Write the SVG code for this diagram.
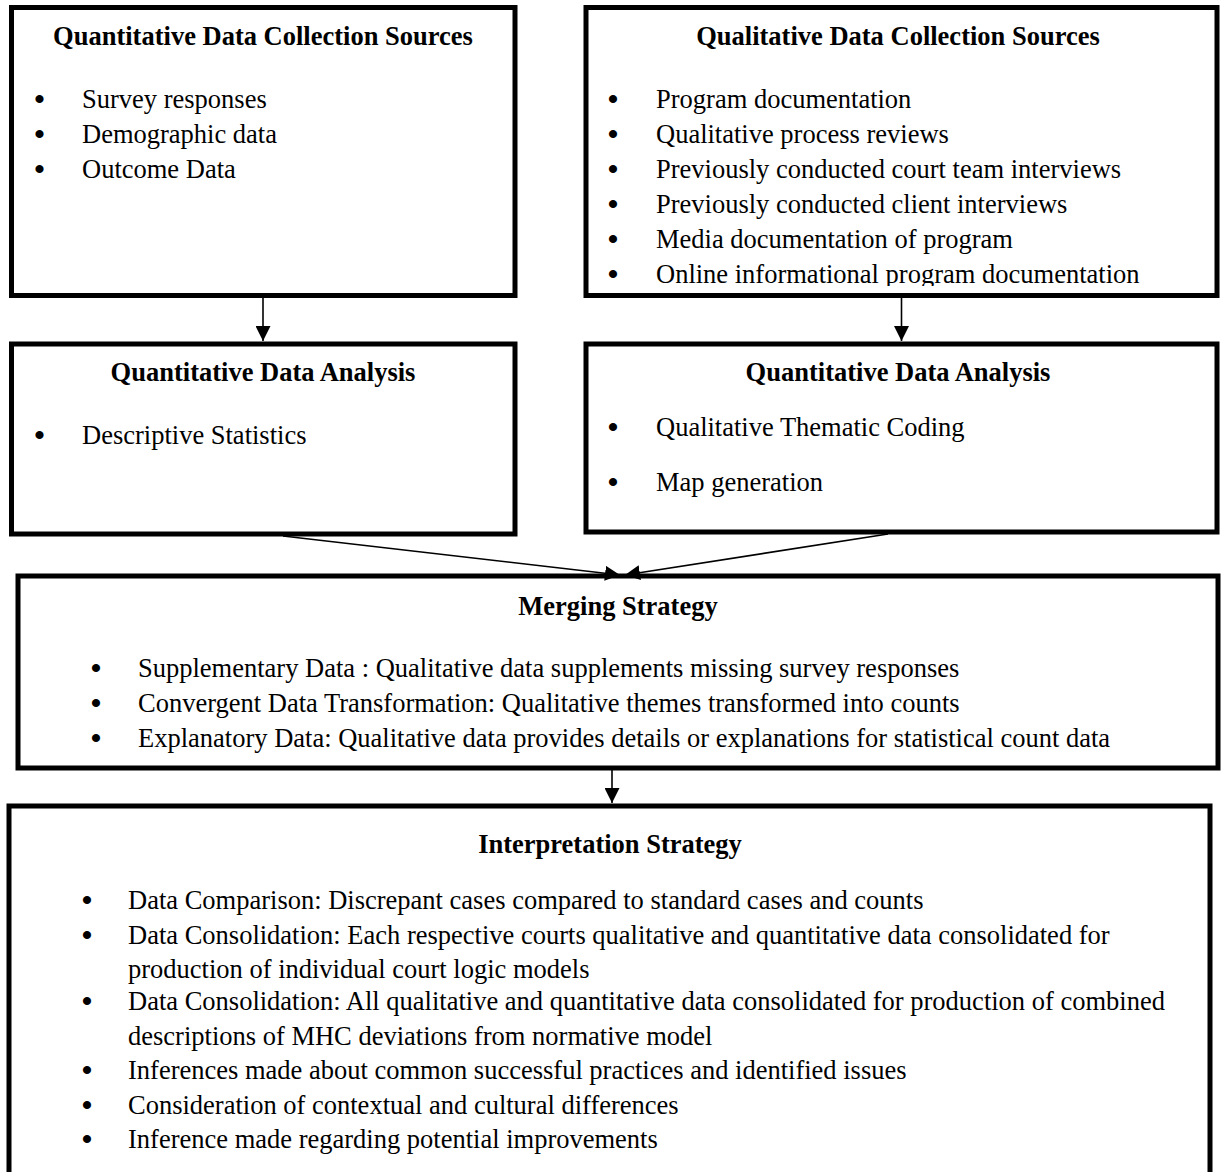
<svg xmlns="http://www.w3.org/2000/svg" width="1224" height="1172" viewBox="0 0 1224 1172">
<style>
.box{fill:#fff;stroke:#000;stroke-width:5}
.t{font-family:"Liberation Serif","Times New Roman",serif;font-size:26.5px;fill:#000}
.h{font-weight:bold;text-anchor:middle}
.b{font-family:"Liberation Serif","Times New Roman",serif;font-size:30px;font-weight:bold;fill:#000;text-anchor:middle}
.c{stroke:#000;stroke-width:1.6;fill:none}
</style>
<defs>
<marker id="a" viewBox="0 0 10 10" refX="10" refY="5" markerWidth="15" markerHeight="15" markerUnits="userSpaceOnUse" orient="auto"><path d="M0,0 L10,5 L0,10 z" fill="#000"/></marker>
<clipPath id="clip2"><rect x="586" y="7" width="631" height="279"/></clipPath>
</defs>
<rect width="1224" height="1172" fill="#fff"/>
<g id="quant-sources">
<rect class="box" x="11.5" y="7.5" width="503.5" height="288"/>
<text class="t h" x="263" y="45">Quantitative Data Collection Sources</text>
<text class="b" x="39.5" y="109">•</text><text class="t" x="82" y="108">Survey responses</text>
<text class="b" x="39.5" y="144">•</text><text class="t" x="82" y="143">Demographic data</text>
<text class="b" x="39.5" y="179">•</text><text class="t" x="82" y="178">Outcome Data</text>
</g>
<g id="qual-sources">
<rect class="box" x="586" y="7.5" width="631" height="288"/>
<text class="t h" x="898" y="45">Qualitative Data Collection Sources</text>
<g clip-path="url(#clip2)">
<text class="b" x="613" y="109">•</text><text class="t" x="656" y="108">Program documentation</text>
<text class="b" x="613" y="144">•</text><text class="t" x="656" y="143">Qualitative process reviews</text>
<text class="b" x="613" y="179">•</text><text class="t" x="656" y="178">Previously conducted court team interviews</text>
<text class="b" x="613" y="214">•</text><text class="t" x="656" y="213">Previously conducted client interviews</text>
<text class="b" x="613" y="249">•</text><text class="t" x="656" y="248">Media documentation of program</text>
<text class="b" x="613" y="284">•</text><text class="t" x="656" y="283">Online informational program documentation</text>
</g>
</g>
<g id="quant-analysis">
<rect class="box" x="11.5" y="344" width="503.5" height="190"/>
<text class="t h" x="263" y="381">Quantitative Data Analysis</text>
<text class="b" x="39.5" y="445">•</text><text class="t" x="82" y="444">Descriptive Statistics</text>
</g>
<g id="qual-analysis">
<rect class="box" x="586" y="344" width="631" height="188"/>
<text class="t h" x="898" y="381">Quantitative Data Analysis</text>
<text class="b" x="613" y="437">•</text><text class="t" x="656" y="436">Qualitative Thematic Coding</text>
<text class="b" x="613" y="492">•</text><text class="t" x="656" y="491">Map generation</text>
</g>
<g id="merging">
<rect class="box" x="18" y="576" width="1200" height="192"/>
<text class="t h" x="618" y="615">Merging Strategy</text>
<text class="b" x="96" y="678">•</text><text class="t" x="138" y="677">Supplementary Data : Qualitative data supplements missing survey responses</text>
<text class="b" x="96" y="713">•</text><text class="t" x="138" y="712">Convergent Data Transformation: Qualitative themes transformed into counts</text>
<text class="b" x="96" y="748">•</text><text class="t" x="138" y="747">Explanatory Data: Qualitative data provides details or explanations for statistical count data</text>
</g>
<g id="interpretation">
<rect class="box" x="9" y="806" width="1201" height="380"/>
<text class="t h" x="610" y="853">Interpretation Strategy</text>
<text class="b" x="87" y="910">•</text><text class="t" x="128" y="909">Data Comparison: Discrepant cases compared to standard cases and counts</text>
<text class="b" x="87" y="945">•</text><text class="t" x="128" y="944">Data Consolidation: Each respective courts qualitative and quantitative data consolidated for</text>
<text class="t" x="128" y="978">production of individual court logic models</text>
<text class="b" x="87" y="1011">•</text><text class="t" x="128" y="1010">Data Consolidation: All qualitative and quantitative data consolidated for production of combined</text>
<text class="t" x="128" y="1045">descriptions of MHC deviations from normative model</text>
<text class="b" x="87" y="1080">•</text><text class="t" x="128" y="1079">Inferences made about common successful practices and identified issues</text>
<text class="b" x="87" y="1115">•</text><text class="t" x="128" y="1114">Consideration of contextual and cultural differences</text>
<text class="b" x="87" y="1149">•</text><text class="t" x="128" y="1148">Inference made regarding potential improvements</text>
</g>
<g id="connectors">
<line class="c" x1="263" y1="298" x2="263" y2="341" marker-end="url(#a)"/>
<line class="c" x1="901.5" y1="298" x2="901.5" y2="341" marker-end="url(#a)"/>
<line class="c" x1="283" y1="536" x2="620" y2="575" marker-end="url(#a)"/>
<line class="c" x1="888" y1="534" x2="625" y2="575" marker-end="url(#a)"/>
<line class="c" x1="612" y1="770" x2="612" y2="803" marker-end="url(#a)"/>
</g>
</svg>
